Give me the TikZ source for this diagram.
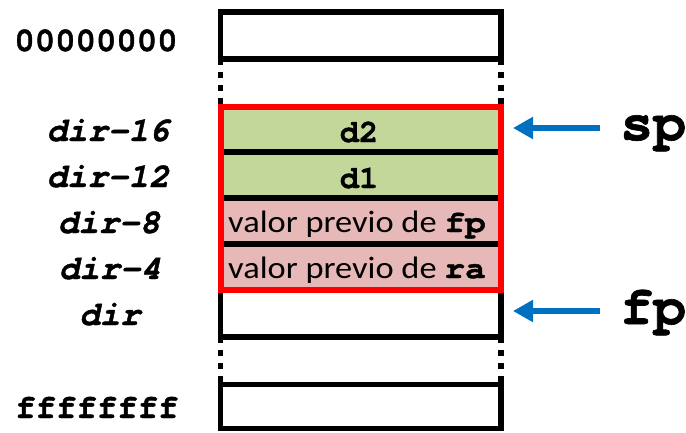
\documentclass[tikz,border=0pt]{standalone}
\usepackage{fontspec}
\usepackage{graphicx}
\setmainfont{Carlito}
\newfontfamily\cour[Ligatures={NoCommon},BoldFeatures={FakeBold=1.2},BoldItalicFeatures={FakeBold=1.2}]{TeX Gyre Cursor}
\usetikzlibrary{arrows.meta}
\definecolor{cgreen}{RGB}{196,215,155}
\definecolor{cpink}{RGB}{230,184,183}
\definecolor{cred}{RGB}{255,0,0}
\definecolor{cblue}{RGB}{0,112,192}
\tikzset{
  blk/.style={line width=5.5pt, black},
  redbox/.style={line width=6pt, cred},
  dotv/.style={line width=5.5pt, black, dash pattern=on 6pt off 7pt},
  addr/.style={font=\cour\bfseries\itshape\fontsize{34}{34}\selectfont, inner sep=0pt, anchor=base},
  hexl/.style={font=\cour\bfseries\fontsize{34}{34}\selectfont, inner sep=0pt, anchor=base},
  regl/.style={font=\cour\bfseries\fontsize{55}{55}\selectfont, inner sep=0pt, anchor=base west},
  cell/.style={font=\fontsize{31}{31}\selectfont, inner sep=0pt, anchor=base west},
  dcell/.style={font=\cour\bfseries\fontsize{32}{32}\selectfont, inner sep=0pt, anchor=base},
  ptr/.style={line width=6pt, cblue, -{Triangle[length=20pt,width=21pt]}},
}
\begin{document}
\begin{tikzpicture}[x=1pt,y=-1pt]
\useasboundingbox (0,0) rectangle (686,432);
% fills
\fill[cgreen] (220.5,106.5) rectangle (501,198);
\fill[cpink] (220.5,198) rectangle (501,290);
% top box
\draw[blk] (220.5,12) rectangle (501,59);
\draw[dotv] (220.5,59) -- (220.5,106.5);
\draw[dotv] (501,59) -- (501,106.5);
% row separators
\draw[blk] (220.5,152) -- (501,152);
\draw[blk] (220.5,198) -- (501,198);
\draw[blk] (220.5,244) -- (501,244);
% dir box
\draw[blk] (220.5,290) -- (220.5,337) -- (501,337) -- (501,290);
\draw[dotv] (220.5,337) -- (220.5,384.5);
\draw[dotv] (501,337) -- (501,384.5);
% bottom box
\draw[blk] (220.5,384.5) rectangle (501,428.5);
% red frame
\draw[redbox] (220.5,106.5) rectangle (501,290);
% cell texts
\node[dcell] (d2) at (359,142) {d2};
\node[dcell] (d1) at (359,188) {d1};
\node[cell] (vfp) at (228,232) {\scalebox{1.11}[1]{valor previo de {\cour\bfseries fp}}};
\node[cell] (vra) at (228,278) {\scalebox{1.11}[1]{valor previo de {\cour\bfseries ra}}};
% address labels
\node[hexl] (zero) at (96,51) {00000000};
\node[addr] (a16) at (108,141) {dir-16};
\node[addr] (a12) at (108,187) {dir-12};
\node[addr] (a8) at (109,233) {dir-8};
\node[addr] (a4) at (110,279) {dir-4};
\node[addr] (a0) at (110,325) {dir};
\node[hexl] (ffs) at (97,418) {ffffffff};
% register labels
\node[regl] (sp) at (620,140) {sp};
\node[regl] (fp) at (620,324) {fp};
\coordinate (spT) at (600,128);
\coordinate (spH) at (513,128);
\coordinate (fpT) at (600,311);
\coordinate (fpH) at (513,311);
\draw[ptr] (spT) -- (spH);
\draw[ptr] (fpT) -- (fpH);
\end{tikzpicture}
\end{document}
